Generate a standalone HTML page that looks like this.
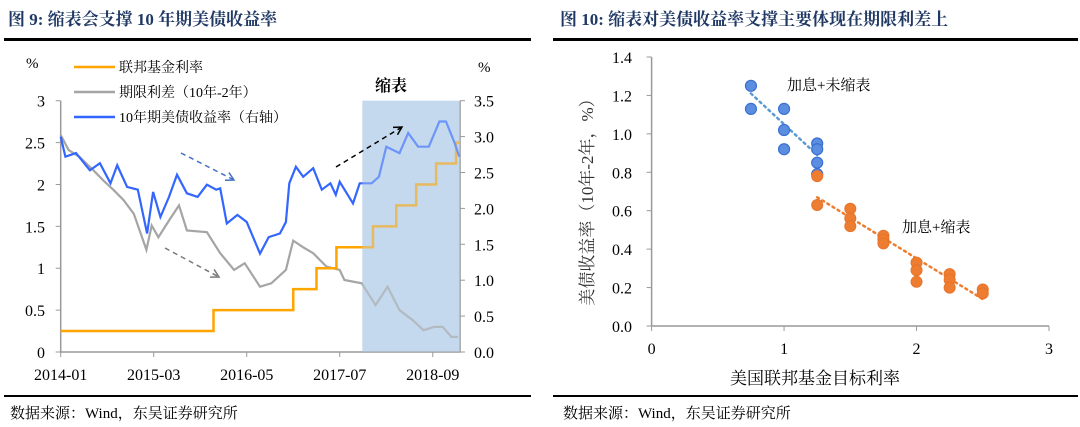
<!DOCTYPE html>
<html><head><meta charset="utf-8">
<style>
body{margin:0;width:1080px;height:427px;background:#fff;overflow:hidden;font-family:"Liberation Serif","Noto Serif CJK SC",serif;}
svg{position:absolute;left:0;top:0}
</style></head>
<body>
<svg id="c" width="1080" height="427" xmlns="http://www.w3.org/2000/svg">
<text x="8" y="25" font-size="17" font-weight="bold" fill="#1f3864" font-family="Liberation Serif,Noto Serif CJK SC,serif">图 9:  缩表会支撑 10 年期美债收益率</text>
<text x="560" y="25" font-size="17" font-weight="bold" fill="#1f3864" font-family="Liberation Serif,Noto Serif CJK SC,serif">图 10:  缩表对美债收益率支撑主要体现在期限利差上</text>
<rect x="4" y="38" width="527" height="3" fill="#000"/>
<rect x="553" y="38" width="525" height="3" fill="#000"/>
<rect x="4" y="395" width="527" height="2" fill="#000"/>
<rect x="553" y="395" width="525" height="2" fill="#000"/>
<text x="10" y="418" font-size="15" fill="#000">数据来源：Wind，东吴证券研究所</text>
<text x="563" y="418" font-size="15" fill="#000">数据来源：Wind，东吴证券研究所</text>
<g id="left"></g>
<g id="right"></g>
</svg>
<script>
// ---- Left chart data ----
const xTickLabels = ["2014-01","2015-03","2016-05","2017-07","2018-09"];
const xTickMonths = [0,14,28,42,56];
const leftTicks = [0,0.5,1,1.5,2,2.5,3];
const leftTickLabels = ["0","0.5","1","1.5","2","2.5","3"];
const rightTicks = [0,0.5,1,1.5,2,2.5,3,3.5];
const rightTickLabels = ["0.0","0.5","1.0","1.5","2.0","2.5","3.0","3.5"];
const fedMonths = [0,23,35,38.5,41.5,47,50.5,53.5,56.5,59.5];
const fedRates = [0.25,0.5,0.75,1.0,1.25,1.5,1.75,2.0,2.25,2.5];
const fedEnd = 60;
const yieldMonths = [0,0.7,2.3,4.4,5.9,7.5,8.5,10,11.6,13,13.9,15,16.3,17.5,19,20.6,22,23.4,24,25,26.6,28,30,31.3,33,33.9,34.4,35.4,36.5,38,39.3,40.6,41.4,42,44,45,46.8,47.9,49,51,52.3,53.8,55.4,57,58,59.3,60];
const yieldVals = [3.0,2.72,2.77,2.53,2.63,2.35,2.6,2.3,2.26,1.65,2.23,1.88,2.16,2.47,2.21,2.16,2.33,2.26,2.28,1.79,1.91,1.81,1.37,1.6,1.65,1.81,2.35,2.58,2.44,2.56,2.26,2.35,2.19,2.37,2.07,2.35,2.35,2.44,2.86,2.77,3.05,2.86,2.86,3.21,3.21,2.91,2.72];
const spreadMonths = [0,1.2,2.8,4.9,6.4,8,9.5,11,12.9,13.7,14.7,16.3,17.8,19,22,24,26.1,27.7,30,31.7,33.9,35,36.5,38,40,42,42.7,45.3,47.4,49.2,51,53,54.6,56.2,57.5,58.8,59.8];
const spreadVals = [2.59,2.41,2.33,2.17,2.05,1.93,1.81,1.65,1.22,1.51,1.37,1.57,1.75,1.45,1.43,1.18,0.98,1.06,0.78,0.82,0.98,1.33,1.25,1.18,1.02,0.98,0.86,0.82,0.56,0.78,0.5,0.38,0.26,0.3,0.3,0.18,0.18];
const shadeStart = 45.4;

// ---- Right chart data ----
const rxTicks = [0,1,2,3];
const ryTicks = [0,0.2,0.4,0.6,0.8,1.0,1.2,1.4];
const ryTickLabels = ["0.0","0.2","0.4","0.6","0.8","1.0","1.2","1.4"];
const blueFed = [0.75,0.75,1,1,1,1.25,1.25,1.25,1.25];
const blueSpread = [1.25,1.13,1.13,1.02,0.92,0.95,0.92,0.85,0.79];
const orangeFed = [1.25,1.25,1.5,1.5,1.5,1.75,1.75,1.75,2,2,2,2.25,2.25,2.25,2.5,2.5];
const orangeSpread = [0.78,0.63,0.61,0.56,0.52,0.47,0.45,0.43,0.33,0.29,0.23,0.27,0.24,0.2,0.19,0.17];
const blueTrendX = [0.75,1.25], blueTrendY = [1.21,0.89];
const orangeTrendX = [1.25,2.5], orangeTrendY = [0.67,0.14];

const NS="http://www.w3.org/2000/svg";
function mk(tag,attrs,parent,text){const e=document.createElementNS(NS,tag);for(const k in attrs)e.setAttribute(k,attrs[k]);if(text!==undefined)e.textContent=text;parent.appendChild(e);return e;}
const FONT='Liberation Serif, Noto Serif CJK SC, serif';

// Left axes
const L=document.getElementById('left');
const X0=60.7,X1=460,Y0=352,Y1=100.7;
const xm=m=>X0+(X1-X0)*m/60.1;
const yl=v=>Y0+(Y1-Y0)*v/3;
const yr=v=>Y0+(Y1-Y0)*v/3.5;
let e;
e=mk('rect',{x:xm(shadeStart),y:Y1,width:X1-xm(shadeStart),height:Y0-Y1,fill:'#c5d9ee'},L);


e=mk('path',{d:`M${X0},${Y1}V${Y0}H${X1}V${Y1}`,stroke:'#999',fill:'none','stroke-width':1.5},L);


leftTicks.forEach((v,i)=>{mk('line',{x1:X0-5,x2:X0,y1:yl(v),y2:yl(v),stroke:'#999'},L);
 e=mk('text',{x:45,y:yl(v)+6,'text-anchor':'end','font-size':16,'font-family':FONT},L,leftTickLabels[i]);
 
 });
rightTicks.forEach((v,i)=>{mk('line',{x1:X1,x2:X1+5,y1:yr(v),y2:yr(v),stroke:'#999'},L);
 e=mk('text',{x:474,y:yr(v)+6,'font-size':16,'font-family':FONT},L,rightTickLabels[i]);
 
 });
xTickMonths.forEach((m,i)=>{mk('line',{x1:xm(m),x2:xm(m),y1:Y0,y2:Y0+5,stroke:'#999'},L);
 e=mk('text',{x:xm(m),y:380,'text-anchor':'middle','font-size':16,'font-family':FONT},L,xTickLabels[i]);
 
 });
function poly(xs,ys,fx,fy){return xs.map((m,i)=>`${fx(m).toFixed(1)},${fy(ys[i]).toFixed(1)}`).join(' ');}
e=mk('polyline',{points:poly(spreadMonths,spreadVals,xm,yl),fill:'none',stroke:'#a5a5a5','stroke-width':2.2},L);


let fd='';fedMonths.forEach((m,i)=>{const y=yl(fedRates[i]);fd+=(i?`V${y}`:`M${xm(m)},${y}`);const nx=i<fedMonths.length-1?fedMonths[i+1]:fedEnd;fd+=`H${xm(nx)}`;});
e=mk('path',{d:fd,fill:'none',stroke:'#ffa500','stroke-width':2.5},L);


e=mk('polyline',{points:poly(yieldMonths,yieldVals,xm,yr),fill:'none',stroke:'#3366ff','stroke-width':2.2},L);


e=mk('rect',{x:xm(shadeStart),y:Y1,width:X1-xm(shadeStart),height:Y0-Y1,fill:'#c5d9ee',opacity:0.4},L);


function arrow(x1,y1,x2,y2,col,name){const g=mk('g',{},L);
 mk('line',{x1,y1,x2,y2,stroke:col,'stroke-width':1.5,'stroke-dasharray':'5,4'},g);
 const a=Math.atan2(y2-y1,x2-x1),s=9;
 mk('polyline',{points:`${x2-s*Math.cos(a-0.5)},${y2-s*Math.sin(a-0.5)} ${x2},${y2} ${x2-s*Math.cos(a+0.5)},${y2-s*Math.sin(a+0.5)}`,fill:'none',stroke:col,'stroke-width':1.5},g);}
arrow(181,153,234,180,'#4472c4','blue-trend-arrow');
arrow(165,248,219,277,'#777','gray-trend-arrow');
arrow(336,167,402,127,'#000','black-trend-arrow');
const leg=[['联邦基金利率','#ffa500',67],['期限利差（10年-2年）','#a5a5a5',92],['10年期美债收益率（右轴）','#3366ff',117]];
leg.forEach(l=>{const g=mk('g',{},L);
 mk('line',{x1:74,x2:115,y1:l[2],y2:l[2],stroke:l[1],'stroke-width':2.5},g);
 mk('text',{x:119,y:l[2]+5,'font-size':14,'font-family':FONT},g,l[0]);});
e=mk('text',{x:26,y:68,'font-size':15,'font-family':FONT},L,'%');


e=mk('text',{x:478,y:72,'font-size':15,'font-family':FONT},L,'%');


e=mk('text',{x:391,y:91,'text-anchor':'middle','font-size':16,'font-weight':'bold','font-family':FONT},L,'缩表');



// Right chart
const R=document.getElementById('right');
const RX0=651.6,RX1=1049,RY0=326,RY1=57;
const rx=v=>RX0+(RX1-RX0)*v/3;
const ry=v=>RY0+(RY1-RY0)*v/1.4;
e=mk('path',{d:`M${RX0},${RY1}V${RY0}H${RX1}`,stroke:'#999',fill:'none','stroke-width':1.5},R);


ryTicks.forEach((v,i)=>{mk('line',{x1:RX0-5,x2:RX0,y1:ry(v),y2:ry(v),stroke:'#999'},R);
 e=mk('text',{x:632,y:ry(v)+6,'text-anchor':'end','font-size':16,'font-family':FONT},R,ryTickLabels[i]);
 
 });
rxTicks.forEach(v=>{mk('line',{x1:rx(v),x2:rx(v),y1:RY0,y2:RY0+5,stroke:'#999'},R);
 e=mk('text',{x:rx(v),y:354,'text-anchor':'middle','font-size':16,'font-family':FONT},R,String(v));
 
 });
e=mk('line',{x1:rx(blueTrendX[0]),y1:ry(blueTrendY[0]),x2:rx(blueTrendX[1]),y2:ry(blueTrendY[1]),stroke:'#5b9bd5','stroke-width':2.5,'stroke-dasharray':'2,4','stroke-linecap':'round'},R);


e=mk('line',{x1:rx(orangeTrendX[0]),y1:ry(orangeTrendY[0]),x2:rx(orangeTrendX[1]),y2:ry(orangeTrendY[1]),stroke:'#ed7d31','stroke-width':2.5,'stroke-dasharray':'2,4','stroke-linecap':'round'},R);


blueFed.forEach((f,i)=>{e=mk('circle',{cx:rx(f),cy:ry(blueSpread[i]),r:5.5,fill:'#5b8ee0',stroke:'#3a6fd0','stroke-width':1.2},R);
 
 });
orangeFed.forEach((f,i)=>{e=mk('circle',{cx:rx(f),cy:ry(orangeSpread[i]),r:5.5,fill:'#ed7d31',stroke:'#e8732a','stroke-width':1},R);
 
 });
e=mk('text',{x:787,y:90,'font-size':15,'font-family':FONT},R,'加息+未缩表');


e=mk('text',{x:902,y:232,'font-size':15,'font-family':FONT},R,'加息+缩表');


e=mk('text',{x:0,y:0,'font-size':17,'text-anchor':'middle','font-family':FONT,fill:'#333',transform:'translate(593,198) rotate(-90)'},R,'美债收益率（10年-2年，%）');


e=mk('text',{x:730,y:384,'font-size':17,'font-family':FONT},R,'美国联邦基金目标利率');


</script>
</body></html>
